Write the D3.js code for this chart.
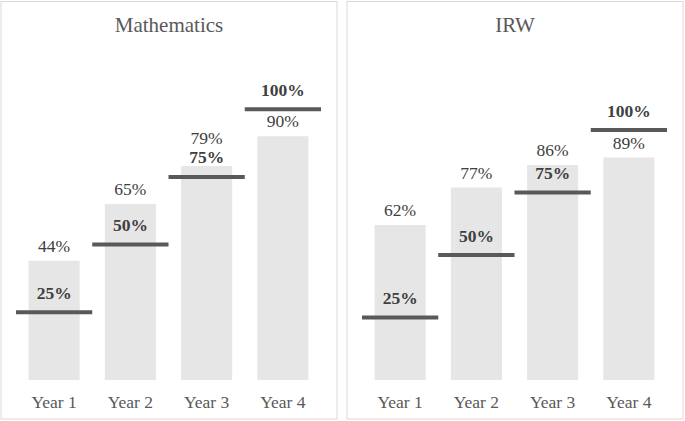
<!DOCTYPE html>
<html>
<head>
<meta charset="utf-8">
<script src="https://cdn.jsdelivr.net/npm/d3@7"></script>
<style>
body { margin: 0; background: #fff; }
text { font-family: "Liberation Serif", "Times New Roman", serif; }
</style>
</head>
<body>
<div id="chart"></div>
<script>
var years = ["Year 1", "Year 2", "Year 3", "Year 4"];
var targets = [0.25, 0.50, 0.75, 1.00];
var mathValues = [0.44, 0.65, 0.79, 0.90];
var irwValues = [0.62, 0.77, 0.86, 0.89];
var titles = ["Mathematics", "IRW"];
var axisMax = [1.2, 1.3];

var width = 685;
var height = 421;

var svg = d3.select("#chart")
	.append("svg")
	.attr("width", width)
	.attr("height", height);

function pct(v) {
	return Math.round(v * 100) + "%";
}

function drawPanel(px, title, values, yMax) {
	var pw = 336;
	var g = svg.append("g").attr("transform", "translate(" + px + ",0)");

	// panel frame
	g.append("rect")
		.attr("x", 0.5)
		.attr("y", 1.5)
		.attr("width", pw)
		.attr("height", 417.5)
		.attr("fill", "none")
		.attr("stroke", "#d9d9d9")
		.attr("stroke-width", 1);

	g.append("text")
		.attr("x", pw / 2 + 0.5)
		.attr("y", 32)
		.attr("text-anchor", "middle")
		.attr("font-size", "21px")
		.attr("fill", "#595959")
		.text(title);

	var x = d3.scaleBand()
		.domain(years)
		.range([15.5, 320.5])
		.paddingInner(0.33)
		.paddingOuter(0.165);

	var y = d3.scaleLinear()
		.domain([0, yMax])
		.range([380, 55]);

	var step = x.step();
	var rows = years.map(function(yr, i) { return {year: yr, value: values[i], target: targets[i]}; });

	g.selectAll("rect.bar")
		.data(rows)
		.join("rect")
		.attr("class", "bar")
		.attr("x", function(d) { return x(d.year); })
		.attr("y", function(d) { return y(d.value); })
		.attr("width", x.bandwidth())
		.attr("height", function(d) { return y(0) - y(d.value); })
		.attr("fill", "#e6e6e6");

	g.selectAll("line.target")
		.data(rows)
		.join("line")
		.attr("class", "target")
		.attr("x1", function(d) { return x(d.year) + x.bandwidth() / 2 - step / 2; })
		.attr("x2", function(d) { return x(d.year) + x.bandwidth() / 2 + step / 2; })
		.attr("y1", function(d) { return y(d.target); })
		.attr("y2", function(d) { return y(d.target); })
		.attr("stroke", "#595959")
		.attr("stroke-width", 4);

	// target labels
	g.selectAll("text.tlab")
		.data(rows)
		.join("text")
		.attr("class", "tlab")
		.attr("x", function(d) { return x(d.year) + x.bandwidth() / 2; })
		.attr("y", function(d) { return y(d.target) - 13.5; })
		.attr("text-anchor", "middle")
		.attr("font-size", "17.5px")
		.attr("font-weight", "bold")
		.attr("fill", "#404040")
		.text(function(d) { return pct(d.target); });

	// value labels, nudged up when they would sit on the target label
	g.selectAll("text.vlab")
		.data(rows)
		.join("text")
		.attr("class", "vlab")
		.attr("x", function(d) { return x(d.year) + x.bandwidth() / 2; })
		.attr("y", function(d) {
			var vy = y(d.value) - 9;
			var ty = y(d.target) - 13.5;
			if (Math.abs(vy - ty) < 16) vy = ty - 19.5;
			return vy;
		})
		.attr("text-anchor", "middle")
		.attr("font-size", "17.5px")
		.attr("fill", "#404040")
		.text(function(d) { return pct(d.value); });

	// category axis
	var axis = g.append("g")
		.attr("transform", "translate(0,380)")
		.call(d3.axisBottom(x).tickSize(0).tickPadding(27));
	axis.select(".domain").remove();
	axis.selectAll("text")
		.attr("font-size", "17.5px")
		.attr("font-family", "Liberation Serif, Times New Roman, serif")
		.attr("fill", "#595959")
		.attr("dy", null)
		.attr("y", 27.5);
}

drawPanel(0.5, titles[0], mathValues, axisMax[0]);
drawPanel(346.5, titles[1], irwValues, axisMax[1]);
</script>
</body>
</html>
